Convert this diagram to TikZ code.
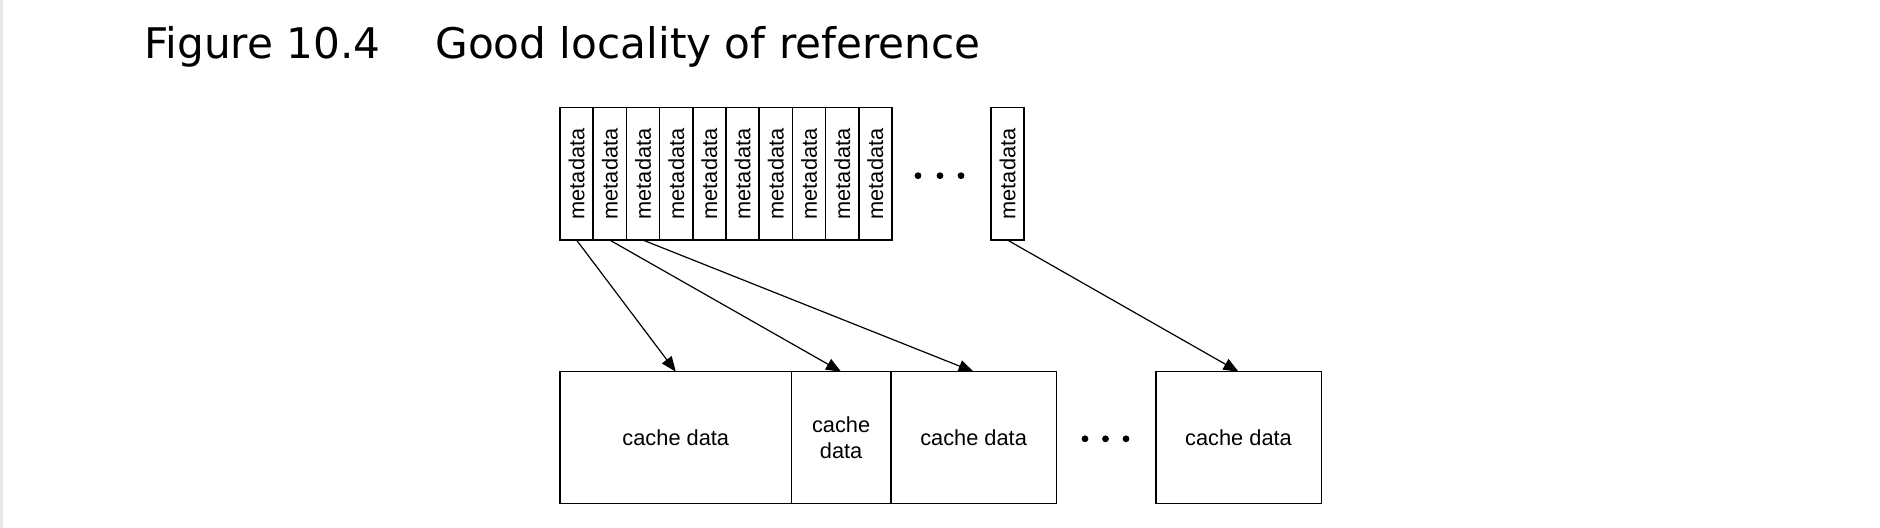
\documentclass[tikz,border=0pt]{standalone}
\usepackage{fontspec}
\setmainfont{Liberation Sans}
\newfontfamily\titlefont{DejaVu Sans}
\usetikzlibrary{arrows.meta}

\tikzset{
  meta/.style={draw, line width=0.8pt, inner sep=0pt, outer sep=0pt,
    minimum width=16.6pt, minimum height=66.2pt,
    font=\fontsize{10.9}{13.2}\selectfont},
  cache/.style={draw, line width=0.8pt, inner sep=0pt, outer sep=0pt,
    minimum height=66pt, align=center,
    font=\fontsize{10.9}{13.2}\selectfont},
  caption/.style={anchor=base west, inner sep=0pt,
    font=\titlefont\fontsize{21.1}{25}\selectfont}
}

\begin{document}
\begin{tikzpicture}[x=0.5pt,y=-0.5pt,>={Triangle[length=7.5pt,width=6pt]}]
      \useasboundingbox (0,0) rectangle (1880,528);
      \fill[white] (0,0) rectangle (1880,528);
      \fill[black!9] (0,0) rectangle (3,528);

      \node[caption] (fig) at (144, 59) {Figure 10.4};
      \node[caption] (title) at (435, 59) {Good locality of reference};

      % metadata entries
      \node[meta] (M1)  at (576.6, 173.9) {\rotatebox{90}{metadata}};
      \node[meta] (M2)  at (609.8, 173.9) {\rotatebox{90}{metadata}};
      \node[meta] (M3)  at (643.0, 173.9) {\rotatebox{90}{metadata}};
      \node[meta] (M4)  at (676.2, 173.9) {\rotatebox{90}{metadata}};
      \node[meta] (M5)  at (709.4, 173.9) {\rotatebox{90}{metadata}};
      \node[meta] (M6)  at (742.6, 173.9) {\rotatebox{90}{metadata}};
      \node[meta] (M7)  at (775.8, 173.9) {\rotatebox{90}{metadata}};
      \node[meta] (M8)  at (809.0, 173.9) {\rotatebox{90}{metadata}};
      \node[meta] (M9)  at (842.2, 173.9) {\rotatebox{90}{metadata}};
      \node[meta] (M10) at (875.4, 173.9) {\rotatebox{90}{metadata}};
      \node[meta] (Mn)  at (1007.5, 173.9) {\rotatebox{90}{metadata}};

      \fill (918, 175.7) circle (1.7pt) (940, 175.7) circle (1.7pt) (961, 175.7) circle (1.7pt);

      % cache data blocks
      \node[cache, minimum width=115.8pt] (C1) at (675.8, 437.7) {cache data};
      \node[cache, minimum width=49.8pt]  (C2) at (841.1, 437.7) {cache\\data};
      \node[cache, minimum width=82.7pt]  (C3) at (973.6, 437.7) {cache data};
      \node[cache, minimum width=82.8pt]  (Cn) at (1238.5, 437.7) {cache data};

      \fill (1085, 438.8) circle (1.7pt) (1105.5, 438.8) circle (1.7pt) (1126, 438.8) circle (1.7pt);

      \draw[->,line width=0.6pt] (M1.south) -- (C1.north);
      \draw[->,line width=0.6pt] (M2.south) -- (C2.north);
      \draw[->,line width=0.6pt] (M3.south) -- (C3.north);
      \draw[->,line width=0.6pt] (Mn.south) -- (Cn.north);
    \end{tikzpicture}
\end{document}
